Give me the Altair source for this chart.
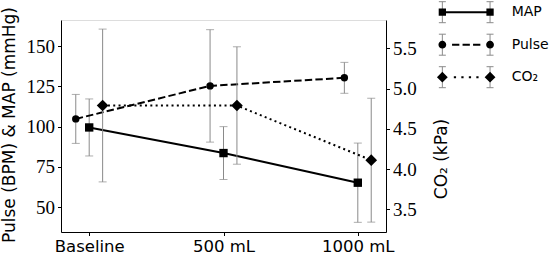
import altair as alt
import pandas as pd

# ---------------- data ----------------
conditions = ["Baseline", "500 mL", "1000 mL"]
cond_index = [0, 1, 2]
series_names = ["MAP", "Pulse", "CO₂"]

map_mean = [99.5, 83.6, 65.2]
map_err = [17.7, 16.4, 24.6]
pulse_mean = [104.8, 125.3, 130.3]
pulse_err = [15.2, 34.9, 9.6]
co2_mean = [4.79, 4.79, 4.11]
co2_err = [0.95, 0.73, 0.77]

left_ticks = [50, 75, 100, 125, 150]
right_ticks = [3.5, 4.0, 4.5, 5.0, 5.5]

# ---------------- styling ----------------
SANS = "DejaVu Sans"
SERIF = "Liberation Serif"
GREY = "#8a8a8a"
OFFSET = {"MAP": 0.0, "Pulse": -0.1, "CO₂": 0.1}


def frame(name, means, errs):
    return pd.DataFrame({
        "x": [i + OFFSET[name] for i in cond_index],
        "mean": means,
        "lo": [m - e for m, e in zip(means, errs)],
        "hi": [m + e for m, e in zip(means, errs)],
        "series": [name] * len(means),
    })


df_map = frame("MAP", map_mean, map_err)
df_pulse = frame("Pulse", pulse_mean, pulse_err)
df_co2 = frame("CO₂", co2_mean, co2_err)

label_expr = "[" + ",".join("'" + c + "'" for c in conditions) + "][round(datum.value)]"

x_axis = alt.Axis(values=cond_index, labelExpr=label_expr, title=None, grid=False,
                  labelFont=SANS, labelFontSize=16.5, labelPadding=3, tickSize=3.5,
                  labelFlush=False, labelColor="black", domainColor="black",
                  tickColor="black", labelOverlap=False)
x_scale = alt.Scale(domain=[-0.21, 2.21], nice=False, zero=False)


def X():
    return alt.X("x:Q", scale=x_scale, axis=x_axis)


left_scale = alt.Scale(domain=[34.6, 166.2], nice=False, zero=False)
left_axis = alt.Axis(values=left_ticks, title="Pulse (BPM) & MAP (mmHg)", grid=False,
                     labelFont=SERIF, labelFontSize=19, labelPadding=3, tickSize=3.5,
                     labelColor="black", domainColor="black", tickColor="black",
                     titleFont=SANS, titleFontSize=17, titleFontWeight="normal",
                     titleColor="black", titleAngle=270, titleAlign="center",
                     titleBaseline="middle", titleX=-51.5, titleY=104.5)
right_scale = alt.Scale(domain=[3.217, 5.853], nice=False, zero=False)
right_axis = alt.Axis(values=right_ticks, format=".1f", orient="right",
                      title="CO₂ (kPa)", grid=False,
                      labelFont=SERIF, labelFontSize=19, labelPadding=3, tickSize=3.5,
                      labelColor="black", domainColor="black", tickColor="black",
                      titleFont=SANS, titleFontSize=17, titleFontWeight="normal",
                      titleColor="black", titleAngle=270, titleAlign="center",
                      titleBaseline="middle", titleX=55, titleY=138.5)


def YL(field):
    return alt.Y(field, scale=left_scale, axis=left_axis)


def YR(field):
    return alt.Y(field, scale=right_scale, axis=right_axis)


def series_layers(df, Y, shape, size, dash):
    base = alt.Chart(df)
    rule = base.mark_rule(color=GREY, strokeWidth=1).encode(
        x=X(), y=Y("lo:Q"), y2="hi:Q")
    cap_lo = base.mark_tick(orient="horizontal", size=8, thickness=1, color=GREY).encode(
        x=X(), y=Y("lo:Q"))
    cap_hi = base.mark_tick(orient="horizontal", size=8, thickness=1, color=GREY).encode(
        x=X(), y=Y("hi:Q"))
    line_kw = dict(color="black", strokeWidth=2)
    if dash:
        line_kw["strokeDash"] = dash
    line = base.mark_line(**line_kw).encode(x=X(), y=Y("mean:Q"))
    pts = base.mark_point(shape=shape, filled=True, size=size, color="black",
                          opacity=1).encode(x=X(), y=Y("mean:Q"))
    return [rule, cap_lo, cap_hi, line, pts]


# ---------------- legend symbols as custom SVG paths ----------------
SYM = 900           # legend symbol size -> sqrt = 30 px box
U = 15.0            # px per path unit (half of the 30 px box)
CX = 23.85 / U
HALF_ERR = 10.5 / U
CAP = 3.5 / U


def n(v):
    return f"{v:.3f}"


def rect(x0, x1, y0, y1):
    return f"M{n(x0)},{n(y0)}L{n(x1)},{n(y0)}L{n(x1)},{n(y1)}L{n(x0)},{n(y1)}Z"


def square(cx, h):
    return rect(cx - h, cx + h, -h, h)


def circle(cx, r):
    return (f"M{n(cx - r)},0A{n(r)},{n(r)} 0 1,1 {n(cx + r)},0"
            f"A{n(r)},{n(r)} 0 1,1 {n(cx - r)},0Z")


def diamond(cx, h):
    return f"M{n(cx - h)},0L{n(cx)},{n(-h)}L{n(cx + h)},0L{n(cx)},{n(h)}Z"


# invisible (zero-area) span so both legends get identical symbol bounds
span = f"M0,{n(-HALF_ERR)}L0,{n(HALF_ERR)}"
err_path = ""
for cx in (-CX, CX):
    err_path += (f"M{n(cx)},{n(-HALF_ERR)}L{n(cx)},{n(HALF_ERR)}"
                 f"M{n(cx - CAP)},{n(-HALF_ERR)}L{n(cx + CAP)},{n(-HALF_ERR)}"
                 f"M{n(cx - CAP)},{n(HALF_ERR)}L{n(cx + CAP)},{n(HALF_ERR)}")

LW = 1.0 / U
map_path = span + rect(-CX, CX, -LW, LW) + square(-CX, 3.65 / U) + square(CX, 3.65 / U)
pulse_path = span
for c in (-10.5, 0.0, 10.5):
    pulse_path += rect((c - 3.65) / U, (c + 3.65) / U, -LW, LW)
pulse_path += circle(-CX, 3.9 / U) + circle(CX, 3.9 / U)
co2_path = span
for c in (-11.25, -3.75, 3.75, 11.25):
    co2_path += rect((c - 1.125) / U, (c + 1.125) / U, -LW, LW)
co2_path += diamond(-CX, 5.4 / U) + diamond(CX, 5.4 / U)

legend_df = pd.DataFrame({"series": series_names})
LEG_X = 379.7
LEG_Y = -23.3
common_legend = dict(orient="none", legendX=LEG_X, legendY=LEG_Y, title=None,
                     symbolSize=SYM, symbolOpacity=1, rowPadding=4.5,
                     labelFont=SANS, labelFontSize=14, labelColor="black",
                     labelOffset=30, padding=0, symbolOffset=10)

legend_err = alt.Chart(legend_df).mark_point(
    filled=False, opacity=0, color=GREY, strokeWidth=1).encode(
    x=alt.value(0), y=alt.value(0),
    shape=alt.Shape("series:N",
                    scale=alt.Scale(domain=series_names, range=[err_path] * 3),
                    legend=alt.Legend(labelOpacity=0, symbolStrokeWidth=1,
                                      symbolStrokeColor=GREY, **common_legend)))
legend_main = alt.Chart(legend_df).mark_point(
    filled=True, opacity=0, color="black", stroke="transparent", strokeWidth=1).encode(
    x=alt.value(0), y=alt.value(0),
    shape=alt.Shape("series:N",
                    scale=alt.Scale(domain=series_names,
                                    range=[map_path, pulse_path, co2_path]),
                    legend=alt.Legend(symbolStrokeWidth=1, symbolFillColor="black",
                                      **common_legend)))

left = alt.layer(
    *series_layers(df_map, YL, "square", 70, None),
    *series_layers(df_pulse, YL, "circle", 55, [7.4, 3.2]),
    legend_err, legend_main,
).resolve_scale(shape="independent")

right = alt.layer(*series_layers(df_co2, YR, "diamond", 137, [2, 3.3]))

chart = alt.layer(left, right).resolve_scale(y="independent", shape="independent").properties(
    width=325, height=212,
    autosize=alt.AutoSizeParams(type="none"),
    padding={"left": 61, "top": 20, "right": 165, "bottom": 23},
).configure_view(stroke=None).configure(background="white")

chart.save("out.html", embed_options={"renderer": "svg", "actions": False})
